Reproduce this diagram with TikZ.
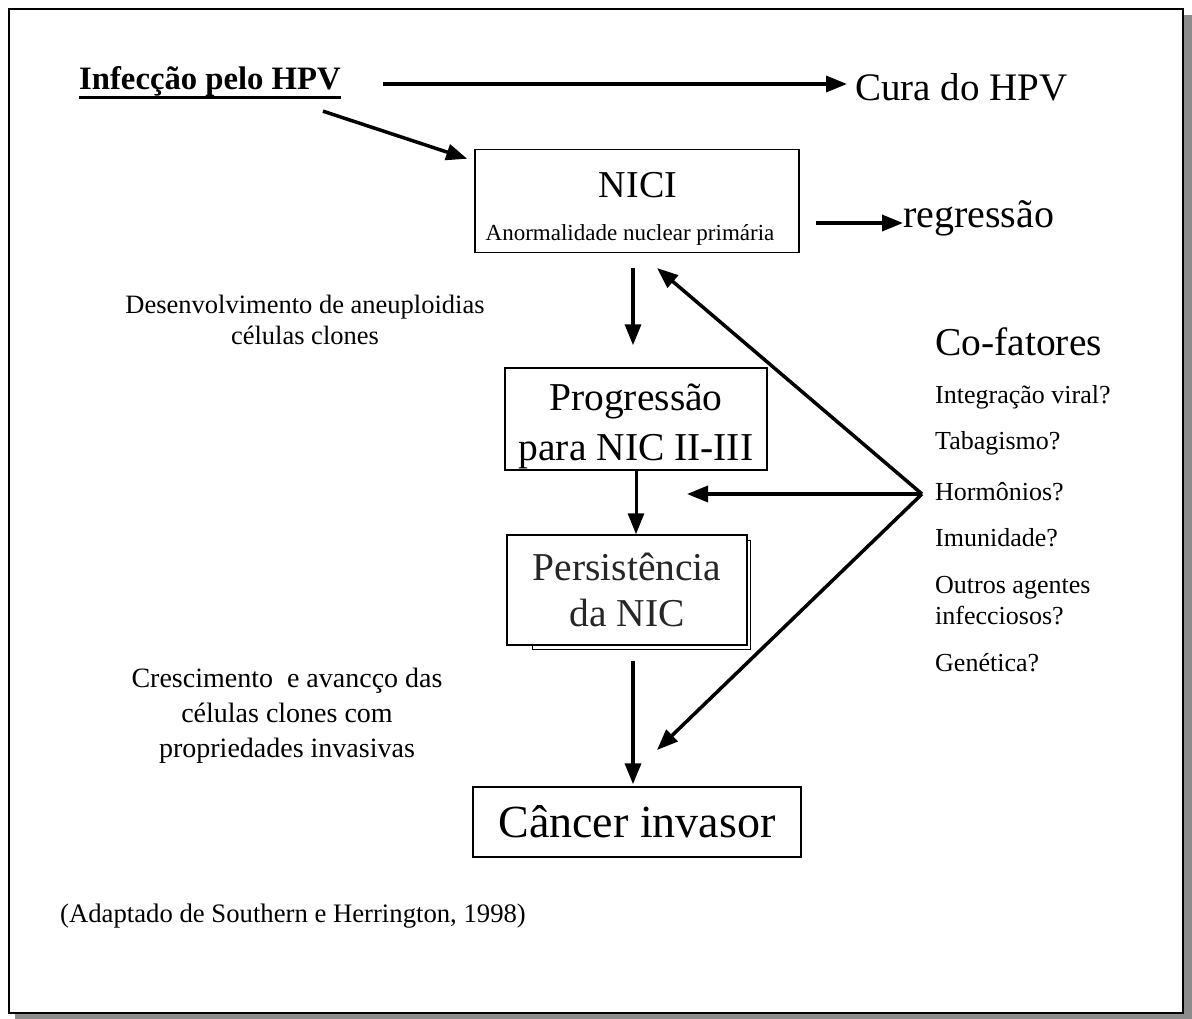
\documentclass[tikz,border=0pt]{standalone}
\usepackage{fontspec}
\setmainfont{Liberation Serif}
\usetikzlibrary{arrows.meta,positioning}

\newcommand{\sz}[2]{\fontsize{#1}{#2}\selectfont}

\begin{document}
\begin{tikzpicture}[x=1pt,y=-1pt,
  stage/.style={draw,line width=1.5pt,fill=white,align=center,inner sep=0pt},
  flow/.style={line width=3.5pt,-{Triangle[length=21pt,width=16pt]}},
  note/.style={align=center,inner sep=0pt}]

\useasboundingbox (0,0) rectangle (1192,1019);

% frame with shadow
\fill[black!45] (15,15) rectangle (1192,1019);
\draw[line width=2.5pt,fill=white] (9,9) rectangle (1183,1013);

% top row
\node[anchor=base west,inner sep=0pt,font=\sz{32.7}{38}\bfseries] (infec) at (79,90) {Infecção pelo HPV};
\draw[line width=2.8pt] (infec.south west) -- (infec.south east);
\node[anchor=base west,inner sep=0pt,font=\sz{39}{44}] (cura) at (855,101) {Cura do HPV};

% stages
\node[stage,minimum width=324pt,minimum height=103pt] (nici) at (637,201) {};
\node[anchor=base,inner sep=0pt,font=\sz{38}{44}] (nicititle) at (638,198) {NICI};
\node[anchor=base,inner sep=0pt,font=\sz{23}{28}] (nicisub) at (630,241) {Anormalidade nuclear primária};
\node[anchor=base west,inner sep=0pt,font=\sz{40}{44}] (regr) at (903,228) {regressão};

\node[stage,minimum width=262pt,minimum height=102pt] (prog) at (636,419) {};
\node[note,font=\sz{39.5}{50}] (progtext) at ([yshift=-7pt]prog.center) {Progressão\\para NIC II-III};

\node[stage,line width=1pt,minimum width=218pt,minimum height=109pt] (persback) at (641,594.5) {};
\node[stage,minimum width=240pt,minimum height=110pt,font=\sz{39.5}{46},text=black!85] (pers) at (627,590) {Persistência\\da NIC};

\node[stage,minimum width=328pt,minimum height=70pt,font=\sz{46}{50}] (cancer) at (637,822) {Câncer invasor};

% notes
\node[note,font=\sz{26.5}{31}] (desenv) at (305,320) {Desenvolvimento de aneuploidias\\células clones};
\node[note,font=\sz{28}{35}] (cresc) at (287,716) {Crescimento\ \ e avancço das\\células clones com\\propriedades invasivas};
\node[anchor=base west,inner sep=0pt,font=\sz{26.7}{30}] (adapt) at (60,922) {(Adaptado de Southern e Herrington, 1998)};

% co-factors
\begin{scope}[every node/.style={anchor=base west,inner sep=0pt,font=\sz{26}{30}}]
\node[font=\sz{39.5}{44}] (cofat) at (935,355) {Co-fatores};
\node (integ) at (935,403) {Integração viral?};
\node (tabag) at (935,449) {Tabagismo?};
\node (hormo) at (935,500) {Hormônios?};
\node (imun) at (935,546) {Imunidade?};
\node (outros) at (935,593) {Outros agentes};
\node (infecc) at (935,624) {infecciosos?};
\node (genet) at (935,671) {Genética?};
\end{scope}

\coordinate (hub) at (922,494);
\coordinate (tipnici) at (657,268);
\coordinate (tipprog) at (687,494);
\coordinate (tipcancer) at (657,750);

% connectors
\draw[flow,shorten >=8pt] (383,84) -- (cura.west |- 0,84);
\draw[flow] ([xshift=-18pt,yshift=-14pt]infec.south east) -- ([xshift=-7pt,yshift=-10pt]nici.north west);
\draw[flow] ([xshift=16pt]nici.east |- 0,223) -- (regr.west |- 0,223);
\draw[flow,shorten <=15pt,shorten >=22pt] ([xshift=-4pt]nici.south) -- ([xshift=-3pt]prog.north);
\draw[flow,line width=3pt] (prog.south) -- (prog.south |- pers.north);
\draw[flow,shorten <=15pt,shorten >=2pt] ([xshift=-4pt]cancer.north |- pers.south) -- ([xshift=-4pt]cancer.north);
\draw[flow] (hub) -- (tipnici);
\draw[flow] (hub) -- (tipprog);
\draw[flow] (hub) -- (tipcancer);

\end{tikzpicture}
\end{document}
